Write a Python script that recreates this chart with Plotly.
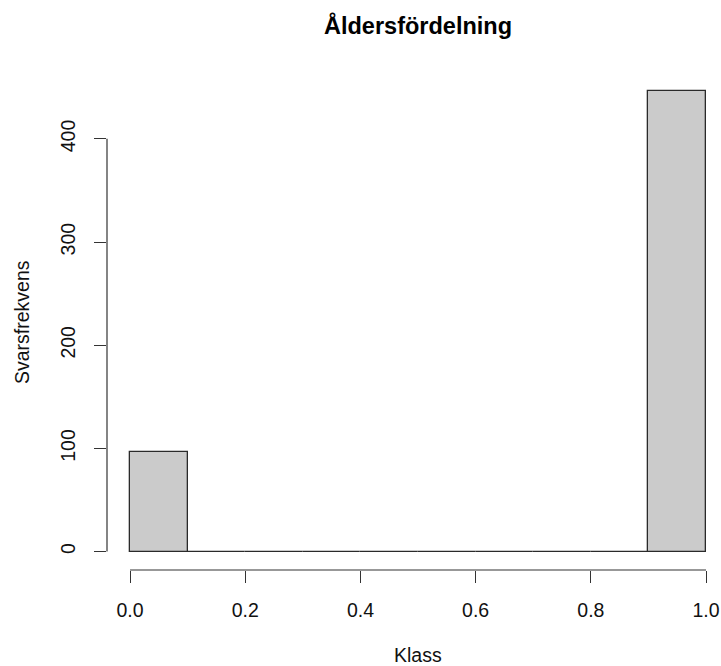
import plotly.graph_objects as go

# Histogram data (bin edges and counts)
bin_edges = [0.0, 0.1, 0.2, 0.3, 0.4, 0.5, 0.6, 0.7, 0.8, 0.9, 1.0]
counts = [97, 0, 0, 0, 0, 0, 0, 0, 0, 446]
x_ticks = [0.0, 0.2, 0.4, 0.6, 0.8, 1.0]
x_ticklabels = ["0.0", "0.2", "0.4", "0.6", "0.8", "1.0"]
y_ticks = [0, 100, 200, 300, 400]
y_ticklabels = ["0", "100", "200", "300", "400"]

title_text = "Åldersfördelning"
x_title = "Klass"
y_title = "Svarsfrekvens"

centers = [(a + b) / 2 for a, b in zip(bin_edges[:-1], bin_edges[1:])]
widths = [b - a for a, b in zip(bin_edges[:-1], bin_edges[1:])]

FONT = "Liberation Sans, Arial, Helvetica, sans-serif"
W, H = 721, 666
# plot area in pixels: left 107, right 721, top 73, bottom 570
ML, MR, MT = 107, 0, 73
MB = H - 570
PW = W - ML - MR
PH = H - MT - MB


def px(xp):
    return (xp - ML) / PW


def py(yp):
    return (H - MB - yp) / PH


ymax = max(counts)
yrange = [-0.04 * ymax, 1.04 * ymax]
xrange = [-0.04, -0.04 + PW / 576.0]

fig = go.Figure()
fig.add_trace(go.Bar(
    x=centers, y=counts, width=widths,
    marker=dict(color="#cbcbcb", line=dict(color="#2a2a2a", width=1.3)),
    showlegend=False, hoverinfo="x+y",
))

fig.update_layout(
    width=W, height=H,
    margin=dict(l=ML, r=MR, t=MT, b=MB, pad=0),
    paper_bgcolor="white", plot_bgcolor="white",
    font=dict(family=FONT, size=19.5, color="#111"),
    bargap=0,
    xaxis=dict(
        range=xrange, showgrid=False, zeroline=False, showline=False,
        tickmode="array", tickvals=x_ticks, ticktext=x_ticklabels,
        ticks="outside", ticklen=12, tickwidth=1.2, tickcolor="#333",
        ticklabelstandoff=11, ticklabeloverflow="allow",
        tickfont=dict(family=FONT, size=19.5, color="#111"),
    ),
    yaxis=dict(
        range=yrange, showgrid=False, zeroline=False, showline=False,
        tickmode="array", tickvals=y_ticks, ticktext=y_ticklabels,
        ticks="outside", ticklen=12, tickwidth=1.2, tickcolor="#333",
        tickangle=-90, ticklabelstandoff=11,
        tickfont=dict(family=FONT, size=19.5, color="#111"),
    ),
    shapes=[
        dict(type="line", xref="x", yref="paper", x0=x_ticks[0], x1=x_ticks[-1],
             y0=0, y1=0, line=dict(color="#333", width=1.2)),
        dict(type="line", xref="paper", yref="y", x0=0, x1=0,
             y0=y_ticks[0], y1=y_ticks[-1], line=dict(color="#333", width=1.2)),
    ],
    annotations=[
        dict(text="<b>" + title_text + "</b>", xref="paper", yref="paper",
             x=px(418), y=py(26), xanchor="center", yanchor="middle",
             showarrow=False, font=dict(family=FONT, size=23.5, color="#000")),
        dict(text=x_title, xref="paper", yref="paper",
             x=px(418), y=py(655), xanchor="center", yanchor="middle",
             showarrow=False, font=dict(family=FONT, size=19.5, color="#111")),
        dict(text=y_title, xref="paper", yref="paper", textangle=-90,
             x=px(22), y=py(322), xanchor="center", yanchor="middle",
             showarrow=False, font=dict(family=FONT, size=19.5, color="#111")),
    ],
)

fig.write_html(
    "out.html",
    config={"displayModeBar": False},
    post_script="document.body.style.margin='0';document.body.style.overflow='hidden';",
)
